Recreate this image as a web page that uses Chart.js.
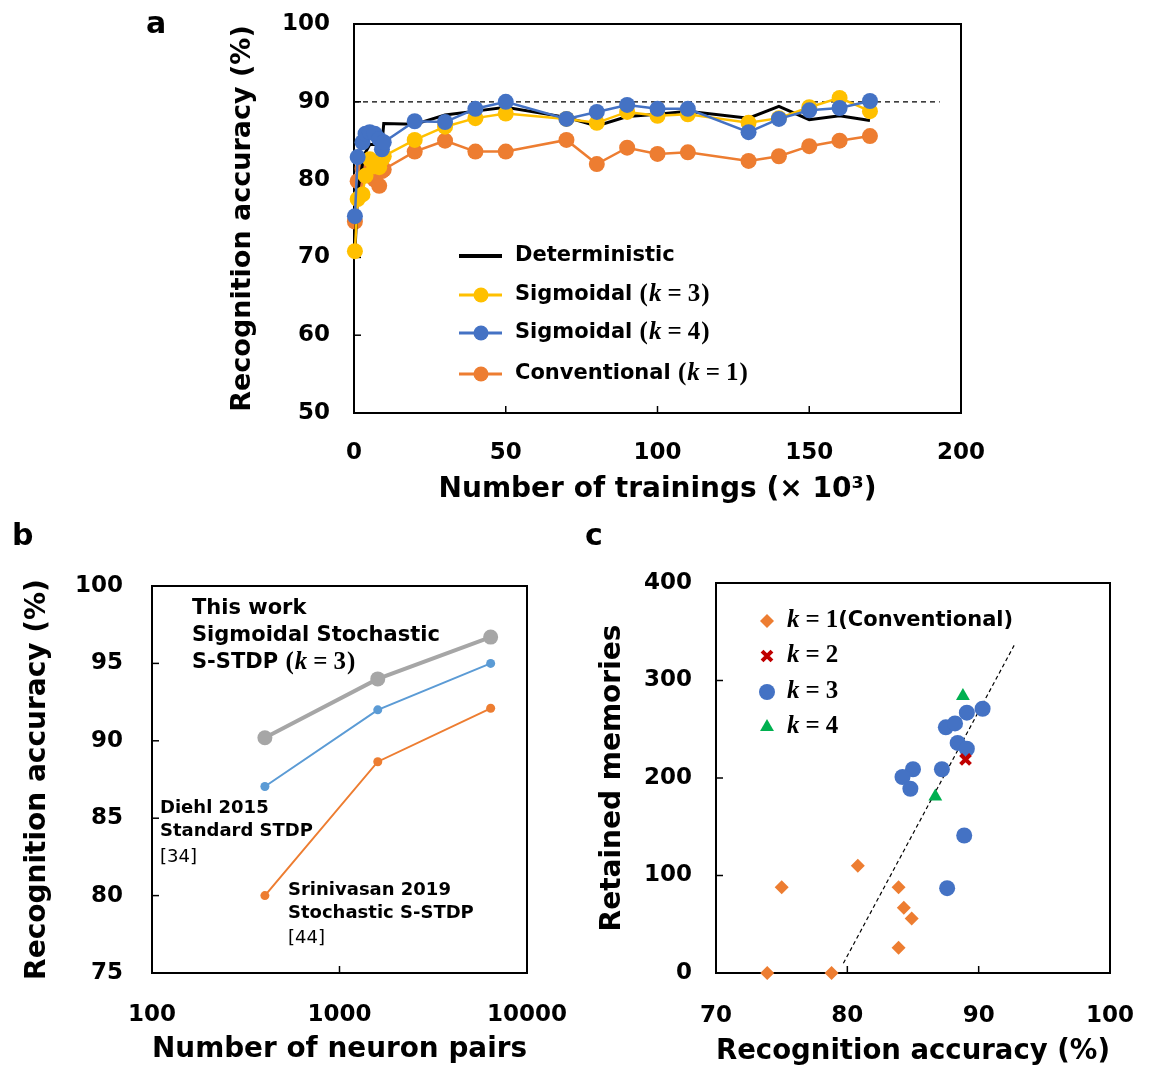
<!DOCTYPE html>
<html><head><meta charset="utf-8">
<script src="https://cdn.jsdelivr.net/npm/chart.js@4.4.1/dist/chart.umd.min.js"></script>
<style>
html,body{margin:0;padding:0;background:#fff;}
body{width:1156px;height:1069px;position:relative;overflow:hidden;}
.panel{position:absolute;}
canvas{display:block;}
</style></head><body>
<div class="panel" style="left:0;top:0;width:1000px;height:520px"><canvas id="ca" width="1000" height="520"></canvas></div>
<div class="panel" style="left:0;top:520px;width:580px;height:549px"><canvas id="cb" width="580" height="549"></canvas></div>
<div class="panel" style="left:580px;top:520px;width:576px;height:549px"><canvas id="cc" width="576" height="549"></canvas></div>
<script>
// ---------- Panel a data ----------
const trainX   = [0.3, 1.2, 2.8, 3.8, 5.2, 6.8, 8.3, 9.2, 9.8, 20, 30, 40, 50, 70, 80, 90, 100, 110, 130, 140, 150, 160, 170];
const detAcc   = [70.5, 78.5, 82.0, 83.5, 84.5, 84.5, 84.5, 84.5, 87.2, 87.1, 88.3, 88.8, 89.3, 88.0, 86.9, 88.1, 88.4, 88.8, 87.9, 89.4, 87.7, 88.2, 87.6];
const sig3Acc  = [70.8, 77.5, 78.1, 80.5, 82.6, 81.7, 81.6, 82.6, 83.0, 85.1, 86.8, 87.9, 88.5, 87.8, 87.3, 88.7, 88.2, 88.4, 87.3, 87.9, 89.3, 90.5, 88.8];
const sig4Acc  = [75.3, 82.9, 84.8, 85.9, 86.1, 85.9, 85.2, 83.9, 84.8, 87.5, 87.4, 89.1, 90.0, 87.8, 88.7, 89.6, 89.1, 89.1, 86.1, 87.8, 88.9, 89.2, 90.1];
const convAcc  = [74.6, 79.8, 81.4, 81.6, 80.5, 80.0, 79.2, 81.1, 81.3, 83.6, 85.0, 83.6, 83.6, 85.1, 82.0, 84.1, 83.3, 83.5, 82.4, 83.0, 84.3, 85.0, 85.6];
const refLineX = [0, 193];
const refLineY = [90, 90];
const namesA   = ['Deterministic', 'Sigmoidal', 'Sigmoidal', 'Conventional'];
const kA       = [null, 3, 4, 1];
const xTicksA  = [0, 50, 100, 150, 200];
const yTicksA  = [50, 60, 70, 80, 90, 100];

// ---------- Panel b data ----------
const pairs        = [400, 1600, 6400];
const thisWorkAcc  = [90.2, 94.0, 96.7];
const diehlAcc     = [87.05, 92.0, 95.0];
const srinivasAcc  = [80.0, 88.65, 92.1];
const xTicksB      = [100, 1000, 10000];
const yTicksB      = [75, 80, 85, 90, 95, 100];
const noteThisWork = ['This work', 'Sigmoidal Stochastic', 'S-STDP '];
const noteDiehl    = ['Diehl 2015', 'Standard STDP', '[34]'];
const noteSrini    = ['Srinivasan 2019', 'Stochastic S-STDP', '[44]'];

// ---------- Panel c data ----------
const k1X = [73.9, 78.8, 75.0, 80.8, 83.9, 84.3, 84.9, 83.9];
const k1Y = [0, 0, 88, 110, 88, 67, 56, 26];
const k2X = [89.0];
const k2Y = [219];
const k3X = [90.3, 89.1, 87.5, 88.2, 88.4, 89.1, 87.2, 85.0, 84.2, 84.8, 88.9, 87.6];
const k3Y = [271, 267, 252, 256, 236, 230, 209, 209, 201, 189, 141, 87];
const k4X = [88.8, 86.7];
const k4Y = [284, 181];
const fitX = [79.7, 92.7];
const fitY = [10, 336];
const kC   = [1, 2, 3, 4];
const xTicksC = [70, 80, 90, 100];
const yTicksC = [0, 100, 200, 300, 400];

// ---------- helpers ----------
const FONT = "'DejaVu Sans', Verdana, sans-serif";
const MATH = "'Liberation Serif', 'DejaVu Serif', serif";
Chart.defaults.font.family = FONT;
Chart.defaults.color = '#000';
const pts = (xs, ys) => xs.map((x, i) => ({x: x, y: ys[i]}));
const tickFont = {family: FONT, size: 23, weight: 'bold'};

function rich(ctx, x, y, parts) {
  ctx.textBaseline = 'middle'; ctx.textAlign = 'left'; ctx.fillStyle = '#000';
  let cx = x;
  for (const p of parts) {
    if (typeof p === 'number') { cx += p; continue; }
    ctx.font = p[1]; ctx.fillText(p[0], cx, y); cx += ctx.measureText(p[0]).width;
  }
  return cx;
}
function mathK(k, size, paren) {
  const f = 'bold ' + size + 'px ' + MATH, fi = 'bold italic ' + size + 'px ' + MATH;
  const g = Math.round(size * 0.22);
  const out = [];
  if (paren) out.push(['(', f], 1);
  out.push(['k', fi], g, ['=', f], g, [String(k), f]);
  if (paren) out.push(1, [')', f]);
  return out;
}
function zeroPad(s) { s.paddingLeft = 0; s.paddingRight = 0; s.paddingTop = 0; s.paddingBottom = 0; }

const framePlugin = {
  id: 'frame',
  beforeDatasetsDraw(chart, args, opts) {
    const {ctx, chartArea: a, scales} = chart;
    ctx.save();
    ctx.strokeStyle = '#000'; ctx.lineWidth = 2;
    ctx.strokeRect(a.left, a.top, a.right - a.left, a.bottom - a.top);
    ctx.lineWidth = 1.5;
    const L = 7;
    (opts.xTicks || []).forEach(v => { const p = scales.x.getPixelForValue(v); ctx.beginPath(); ctx.moveTo(p, a.bottom); ctx.lineTo(p, a.bottom - L); ctx.stroke(); });
    (opts.yTicks || []).forEach(v => { const p = scales.y.getPixelForValue(v); ctx.beginPath(); ctx.moveTo(a.left, p); ctx.lineTo(a.left + L, p); ctx.stroke(); });
    ctx.restore();
  }
};

function axisX(min, max, ticksArr, title, titleSize, padBottom, height, tickPad, extra) {
  return Object.assign({
    type: 'linear', min: min, max: max,
    afterBuildTicks: s => { s.ticks = ticksArr.map(v => ({value: v})); },
    afterFit: s => { s.height = height; zeroPad(s); },
    ticks: {font: tickFont, color: '#000', padding: tickPad, maxRotation: 0, autoSkip: false, callback: v => String(v)},
    grid: {display: false, drawTicks: false}, border: {display: false},
    title: {display: true, text: title, color: '#000', font: {family: FONT, size: titleSize, weight: 'bold'}, padding: {top: 0, bottom: padBottom}}
  }, extra || {});
}
function axisY(min, max, ticksArr, title, titleSize, padTop, width, tickPad) {
  return {
    type: 'linear', min: min, max: max,
    afterBuildTicks: s => { s.ticks = ticksArr.map(v => ({value: v})); },
    afterFit: s => { s.width = width; zeroPad(s); },
    ticks: {font: tickFont, color: '#000', padding: tickPad, autoSkip: false, callback: v => String(v)},
    grid: {display: false, drawTicks: false}, border: {display: false},
    title: {display: true, text: title, color: '#000', font: {family: FONT, size: titleSize, weight: 'bold'}, padding: {top: padTop, bottom: 0}}
  };
}

// ---------- Panel a ----------
const COLA = {det: '#000000', s3: '#ffc000', s4: '#4472c4', conv: '#ed7d31'};
const overlayA = {
  id: 'overlayA',
  afterDraw(chart) {
    const ctx = chart.ctx; ctx.save();
    ctx.font = 'bold 30px ' + FONT; ctx.fillStyle = '#000'; ctx.textBaseline = 'middle';
    ctx.fillText('a', 146, 25);
    const rows = [256, 295, 333, 374];
    const cols = [COLA.det, COLA.s3, COLA.s4, COLA.conv];
    rows.forEach((y, i) => {
      ctx.strokeStyle = cols[i]; ctx.lineWidth = i === 0 ? 4 : 3;
      ctx.beginPath(); ctx.moveTo(459, y); ctx.lineTo(502, y); ctx.stroke();
      if (i > 0) { ctx.fillStyle = cols[i]; ctx.beginPath(); ctx.arc(481, y, 7.5, 0, Math.PI * 2); ctx.fill(); }
      const parts = [[namesA[i] + (kA[i] !== null ? ' ' : ''), 'bold 21px ' + FONT]];
      if (kA[i] !== null) parts.push(...mathK(kA[i], 25, true));
      rich(ctx, 515, y, parts);
    });
    ctx.restore();
  }
};
new Chart(document.getElementById('ca'), {
  type: 'line',
  data: {datasets: [
    {label: 'Deterministic', data: pts(trainX, detAcc), borderColor: COLA.det, borderWidth: 3, pointRadius: 0, order: 2, clip: false},
    {label: 'Sigmoidal (k = 3)', data: pts(trainX, sig3Acc), borderColor: COLA.s3, backgroundColor: COLA.s3, pointBackgroundColor: COLA.s3, pointBorderWidth: 0, borderWidth: 2.5, pointRadius: 8, order: 1, clip: false},
    {label: 'Sigmoidal (k = 4)', data: pts(trainX, sig4Acc), borderColor: COLA.s4, backgroundColor: COLA.s4, pointBackgroundColor: COLA.s4, pointBorderWidth: 0, borderWidth: 2.5, pointRadius: 8, order: 0, clip: false},
    {label: 'Conventional (k = 1)', data: pts(trainX, convAcc), borderColor: COLA.conv, backgroundColor: COLA.conv, pointBackgroundColor: COLA.conv, pointBorderWidth: 0, borderWidth: 2.5, pointRadius: 8, order: 3, clip: false},
    {label: '90% level', data: pts(refLineX, refLineY), borderColor: '#000', borderWidth: 1.2, borderDash: [5, 4], pointRadius: 0, order: 4}
  ]},
  options: {
    responsive: false, animation: false, events: [],
    layout: {padding: {left: 0, top: 24, right: 39, bottom: 0}},
    plugins: {legend: {display: false}, tooltip: {enabled: false}, frame: {xTicks: [50, 100, 150], yTicks: [60, 70, 80, 90]}},
    scales: {
      x: axisX(0, 200, xTicksA, 'Number of trainings (× 10³)', 28, 13, 107, 26),
      y: axisY(50, 100, yTicksA, 'Recognition accuracy (%)', 27, 227, 354, 24)
    }
  },
  plugins: [framePlugin, overlayA]
});

// ---------- Panel b ----------
const overlayB = {
  id: 'overlayB',
  afterDraw(chart) {
    const ctx = chart.ctx; ctx.save();
    ctx.font = 'bold 30px ' + FONT; ctx.fillStyle = '#000'; ctx.textBaseline = 'middle';
    ctx.fillText('b', 12, 17);
    const f21 = 'bold 21px ' + FONT, f18 = 'bold 18px ' + FONT, f18n = '18px ' + FONT;
    rich(ctx, 192, 89, [[noteThisWork[0], f21]]);
    rich(ctx, 192, 116, [[noteThisWork[1], f21]]);
    rich(ctx, 192, 143, [[noteThisWork[2], f21], ...mathK(3, 25, true)]);
    rich(ctx, 160, 288, [[noteDiehl[0], f18]]);
    rich(ctx, 160, 311, [[noteDiehl[1], f18]]);
    rich(ctx, 160, 337, [[noteDiehl[2], f18n]]);
    rich(ctx, 288, 370, [[noteSrini[0], f18]]);
    rich(ctx, 288, 393, [[noteSrini[1], f18]]);
    rich(ctx, 288, 418, [[noteSrini[2], f18n]]);
    ctx.restore();
  }
};
new Chart(document.getElementById('cb'), {
  type: 'line',
  data: {datasets: [
    {label: 'This work', data: pts(pairs, thisWorkAcc), borderColor: '#a6a6a6', backgroundColor: '#a6a6a6', pointBackgroundColor: '#a6a6a6', pointBorderWidth: 0, borderWidth: 4, pointRadius: 7.5, clip: false},
    {label: 'Diehl 2015', data: pts(pairs, diehlAcc), borderColor: '#5b9bd5', backgroundColor: '#5b9bd5', pointBackgroundColor: '#5b9bd5', pointBorderWidth: 0, borderWidth: 2, pointRadius: 4.5, clip: false},
    {label: 'Srinivasan 2019', data: pts(pairs, srinivasAcc), borderColor: '#ed7d31', backgroundColor: '#ed7d31', pointBackgroundColor: '#ed7d31', pointBorderWidth: 0, borderWidth: 2, pointRadius: 4.5, clip: false}
  ]},
  options: {
    responsive: false, animation: false, events: [],
    layout: {padding: {left: 0, top: 66, right: 53, bottom: 0}},
    plugins: {legend: {display: false}, tooltip: {enabled: false}, frame: {xTicks: [1000], yTicks: [80, 85, 90, 95]}},
    scales: {
      x: axisX(100, 10000, xTicksB, 'Number of neuron pairs', 28, 2, 96, 28, {type: 'logarithmic'}),
      y: axisY(75, 100, yTicksB, 'Recognition accuracy (%)', 28, 21, 152, 29)
    }
  },
  plugins: [framePlugin, overlayB]
});

// ---------- Panel c ----------
const COLC = {k1: '#ed7d31', k2: '#c00000', k3: '#4472c4', k4: '#00b050'};
const overlayC = {
  id: 'overlayC',
  afterDraw(chart) {
    const ctx = chart.ctx; ctx.save();
    ctx.font = 'bold 30px ' + FONT; ctx.fillStyle = '#000'; ctx.textBaseline = 'middle';
    ctx.fillText('c', 5, 17);
    const rows = [101, 136, 172, 207];
    const styles = [
      {pointStyle: 'rectRot', radius: 7, borderWidth: 0, c: COLC.k1},
      {pointStyle: 'crossRot', radius: 7, borderWidth: 4, c: COLC.k2},
      {pointStyle: 'circle', radius: 8, borderWidth: 0, c: COLC.k3},
      {pointStyle: 'triangle', radius: 8, borderWidth: 0, c: COLC.k4}
    ];
    rows.forEach((y, i) => {
      const s = styles[i];
      ctx.fillStyle = s.c; ctx.strokeStyle = s.c; ctx.lineWidth = s.borderWidth;
      Chart.helpers.drawPoint(ctx, {pointStyle: s.pointStyle, radius: s.radius, borderWidth: s.borderWidth, rotation: 0}, 187, y);
      const parts = mathK(kC[i], 25, false);
      if (i === 0) parts.push(['(Conventional)', 'bold 21px ' + FONT]);
      rich(ctx, 207, y, parts);
    });
    ctx.restore();
  }
};
new Chart(document.getElementById('cc'), {
  type: 'scatter',
  data: {datasets: [
    {label: 'k = 1 (Conventional)', data: pts(k1X, k1Y), pointStyle: 'rectRot', pointRadius: 7, pointBackgroundColor: COLC.k1, pointBorderWidth: 0, clip: false},
    {label: 'k = 2', data: pts(k2X, k2Y), pointStyle: 'crossRot', pointRadius: 7, pointBorderColor: COLC.k2, pointBorderWidth: 4, clip: false},
    {label: 'k = 3', data: pts(k3X, k3Y), pointStyle: 'circle', pointRadius: 8, pointBackgroundColor: COLC.k3, pointBorderWidth: 0, clip: false},
    {label: 'k = 4', data: pts(k4X, k4Y), pointStyle: 'triangle', pointRadius: 8, pointBackgroundColor: COLC.k4, pointBorderWidth: 0, clip: false},
    {label: 'fit', data: pts(fitX, fitY), showLine: true, borderColor: '#000', borderWidth: 1.2, borderDash: [4, 3], pointRadius: 0}
  ]},
  options: {
    responsive: false, animation: false, events: [],
    layout: {padding: {left: 0, top: 63, right: 46, bottom: 0}},
    plugins: {legend: {display: false}, tooltip: {enabled: false}, frame: {xTicks: [80, 90], yTicks: [100, 200, 300]}},
    scales: {
      x: axisX(70, 100, xTicksC, 'Recognition accuracy (%)', 28, 0, 96, 29),
      y: axisY(0, 400, yTicksC, 'Retained memories', 28, 16, 136, 24)
    }
  },
  plugins: [framePlugin, overlayC]
});
</script>
</body></html>
